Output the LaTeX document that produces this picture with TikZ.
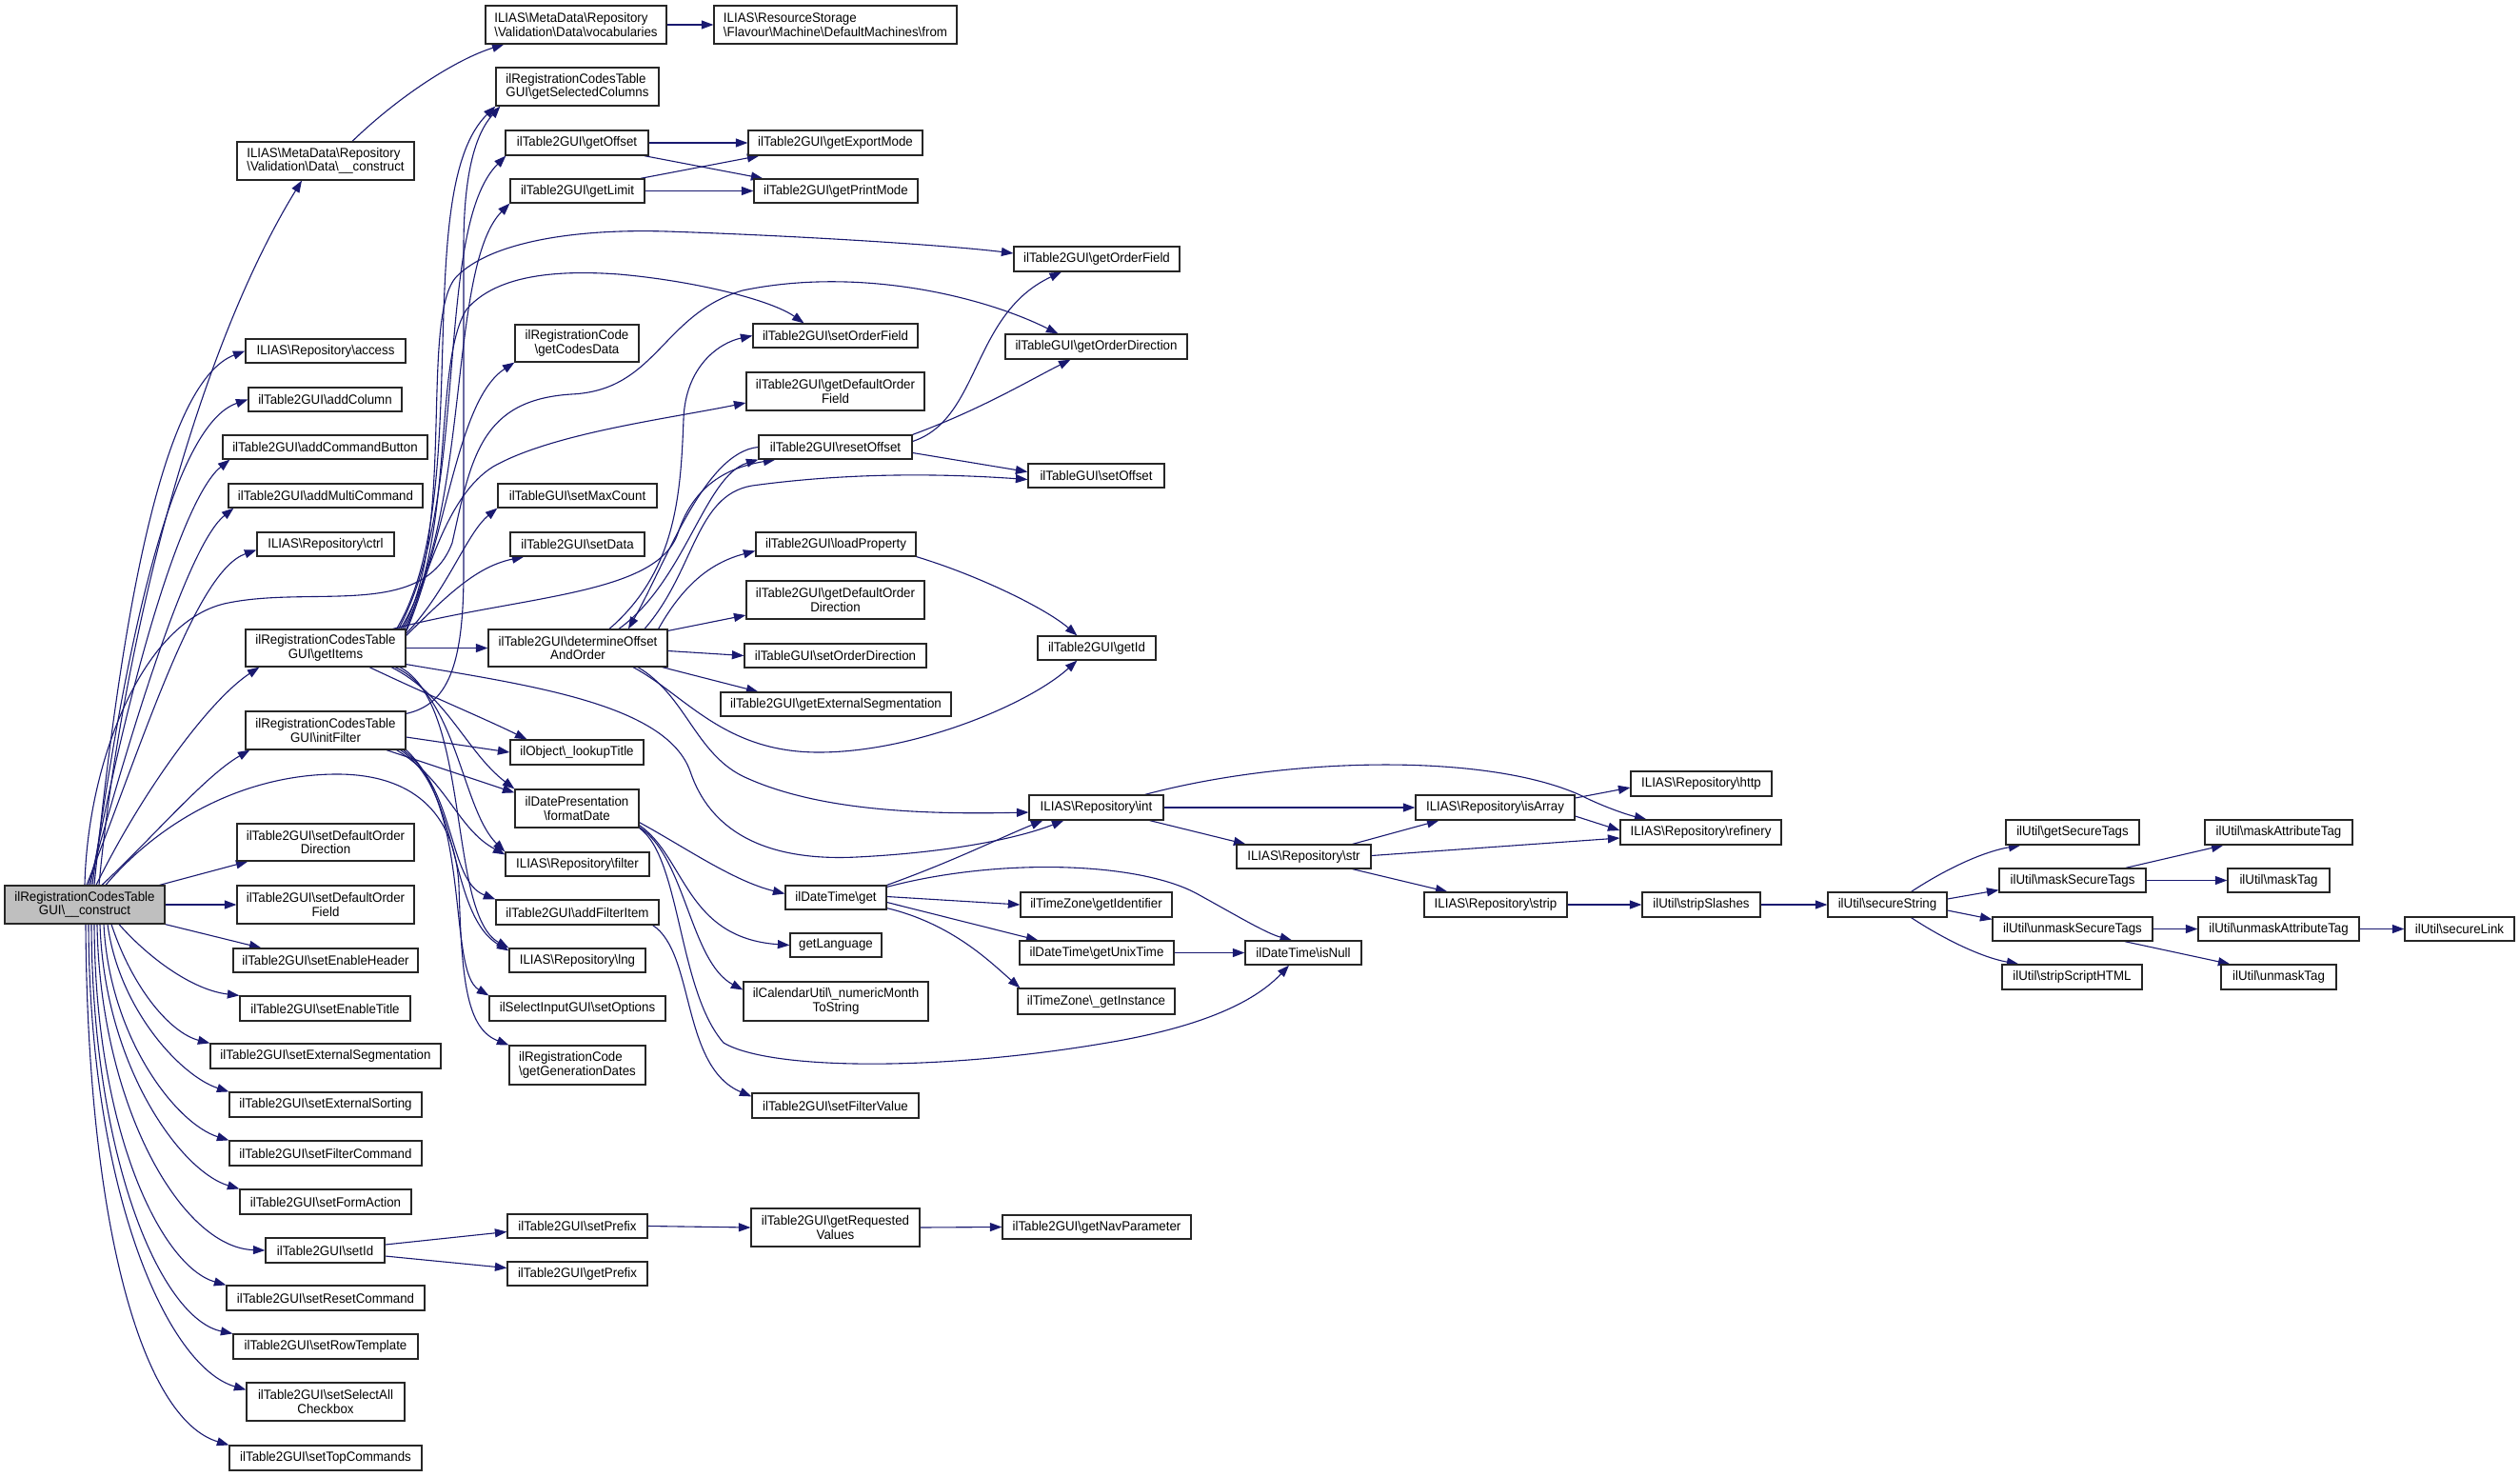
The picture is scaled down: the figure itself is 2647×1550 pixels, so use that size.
\documentclass[tikz,border=0pt]{standalone}
\usepackage{fontspec}
\setmainfont{Liberation Sans}[FakeStretch=0.95]
\usetikzlibrary{arrows.meta,calc,backgrounds}
\definecolor{edgec}{HTML}{191970}
\definecolor{rootc}{HTML}{BFBFBF}
\newcommand\bsl{\textbackslash}
\newcommand\mkbox[7][]{%
  \pgfmathsetmacro\mbX{(#3+#5)/2}%
  \pgfmathsetmacro\mbY{(#4+#6)/2}%
  \pgfmathsetmacro\mbW{#5-#3}%
  \pgfmathsetmacro\mbH{#6-#4}%
  \node[box,minimum width=\mbW pt,minimum height=\mbH pt,#1] (#2) at (\mbX,\mbY) {#7};}
\tikzset{
  box/.style={draw=black!85, line width=1.2pt, fill=white, inner sep=1pt, align=center,
    font=\fontsize{14}{14.6}\selectfont},
  ed/.style={draw=edgec, line width=1.1pt, -{Triangle[length=12.5pt,width=9pt]}},
}
\begin{document}
\begin{tikzpicture}[x=1pt,y=-1pt]
\useasboundingbox (0,0) rectangle (2647,1550);
% ---------- nodes ----------
\mkbox[fill=rootc]{R}{5}{930}{173}{970}{ilRegistrationCodesTable\\GUI\bsl\_\_construct}
\mkbox[align=left]{MDC}{249}{149}{435}{189}{ILIAS\bsl MetaData\bsl Repository\\\bsl Validation\bsl Data\bsl\_\_construct}
\mkbox{ACC}{258}{356}{426}{381}{ILIAS\bsl Repository\bsl access}
\mkbox{ACOL}{261}{407}{422}{432}{ilTable2GUI\bsl addColumn}
\mkbox{ACB}{234}{457}{449}{482}{ilTable2GUI\bsl addCommandButton}
\mkbox{AMC}{240}{508}{444}{533}{ilTable2GUI\bsl addMultiCommand}
\mkbox{CTRL}{270}{559}{414}{584}{ILIAS\bsl Repository\bsl ctrl}
\mkbox{GI}{258}{661}{426}{700}{ilRegistrationCodesTable\\GUI\bsl getItems}
\mkbox{IF}{258}{747}{426}{787}{ilRegistrationCodesTable\\GUI\bsl initFilter}
\mkbox{SDOD}{249}{865}{435}{904}{ilTable2GUI\bsl setDefaultOrder\\Direction}
\mkbox{SDOF}{249}{930}{435}{970}{ilTable2GUI\bsl setDefaultOrder\\Field}
\mkbox{SEH}{245}{996}{439}{1021}{ilTable2GUI\bsl setEnableHeader}
\mkbox{SET}{252}{1046}{431}{1072}{ilTable2GUI\bsl setEnableTitle}
\mkbox{SES}{221}{1096}{463}{1122}{ilTable2GUI\bsl setExternalSegmentation}
\mkbox{SESo}{241}{1147}{443}{1173}{ilTable2GUI\bsl setExternalSorting}
\mkbox{SFC}{241}{1198}{443}{1224}{ilTable2GUI\bsl setFilterCommand}
\mkbox{SFA}{252}{1249}{432}{1275}{ilTable2GUI\bsl setFormAction}
\mkbox{SID}{279}{1300}{404}{1326}{ilTable2GUI\bsl setId}
\mkbox{SRC}{238}{1350}{446}{1376}{ilTable2GUI\bsl setResetCommand}
\mkbox{SRT}{245}{1401}{439}{1427}{ilTable2GUI\bsl setRowTemplate}
\mkbox{SSAC}{259}{1452}{425}{1492}{ilTable2GUI\bsl setSelectAll\\Checkbox}
\mkbox{STC}{241}{1518}{443}{1544}{ilTable2GUI\bsl setTopCommands}
\mkbox[align=left]{VOC}{510}{6}{700}{46}{ILIAS\bsl MetaData\bsl Repository\\\bsl Validation\bsl Data\bsl vocabularies}
\mkbox[align=left]{GSC}{521}{71}{692}{111}{ilRegistrationCodesTable\\GUI\bsl getSelectedColumns}
\mkbox{GOFF}{531}{137}{681}{163}{ilTable2GUI\bsl getOffset}
\mkbox{GLIM}{536}{188}{677}{213}{ilTable2GUI\bsl getLimit}
\mkbox{GCD}{541}{341}{671}{380}{ilRegistrationCode\\\bsl getCodesData}
\mkbox{SMC}{523}{508}{690}{533}{ilTableGUI\bsl setMaxCount}
\mkbox{SDATA}{536}{559}{677}{584}{ilTable2GUI\bsl setData}
\mkbox{DO}{513}{661}{701}{700}{ilTable2GUI\bsl determineOffset\\AndOrder}
\mkbox{LT}{536}{777}{676}{803}{ilObject\bsl\_lookupTitle}
\mkbox{FD}{541}{829}{671}{869}{ilDatePresentation\\\bsl formatDate}
\mkbox{FLT}{531}{895}{682}{920}{ILIAS\bsl Repository\bsl filter}
\mkbox{AFI}{521}{945}{692}{971}{ilTable2GUI\bsl addFilterItem}
\mkbox{LNG}{535}{996}{678}{1021}{ILIAS\bsl Repository\bsl lng}
\mkbox{SOPT}{514}{1046}{699}{1072}{ilSelectInputGUI\bsl setOptions}
\mkbox[align=left]{GGD}{535}{1098}{678}{1139}{ilRegistrationCode\\\bsl getGenerationDates}
\mkbox{SPF}{533}{1275}{680}{1300}{ilTable2GUI\bsl setPrefix}
\mkbox{GPF}{533}{1325}{680}{1350}{ilTable2GUI\bsl getPrefix}
\mkbox[align=left]{FROM}{750}{6}{1005}{46}{ILIAS\bsl ResourceStorage\\\bsl Flavour\bsl Machine\bsl DefaultMachines\bsl from}
\mkbox{GEM}{786}{137}{969}{163}{ilTable2GUI\bsl getExportMode}
\mkbox{GPM}{792}{188}{964}{213}{ilTable2GUI\bsl getPrintMode}
\mkbox{SOF}{791}{340}{964}{365}{ilTable2GUI\bsl setOrderField}
\mkbox{GDOF}{784}{391}{971}{431}{ilTable2GUI\bsl getDefaultOrder\\Field}
\mkbox{RO}{797}{457}{958}{482}{ilTable2GUI\bsl resetOffset}
\mkbox{LP}{794}{559}{962}{584}{ilTable2GUI\bsl loadProperty}
\mkbox{GDOD}{784}{610}{971}{650}{ilTable2GUI\bsl getDefaultOrder\\Direction}
\mkbox{SOD}{782}{676}{973}{701}{ilTableGUI\bsl setOrderDirection}
\mkbox{GES}{757}{727}{999}{752}{ilTable2GUI\bsl getExternalSegmentation}
\mkbox{DG}{825}{930}{931}{955}{ilDateTime\bsl get}
\mkbox{GL}{830}{980}{926}{1005}{getLanguage}
\mkbox{NMTS}{781}{1031}{975}{1072}{ilCalendarUtil\bsl\_numericMonth\\ToString}
\mkbox{SFV}{790}{1148}{965}{1174}{ilTable2GUI\bsl setFilterValue}
\mkbox{GRV}{789}{1269}{966}{1309}{ilTable2GUI\bsl getRequested\\Values}
\mkbox{GOF}{1065}{259}{1239}{285}{ilTable2GUI\bsl getOrderField}
\mkbox{GOD}{1056}{351}{1247}{377}{ilTableGUI\bsl getOrderDirection}
\mkbox{SOFF}{1080}{487}{1223}{512}{ilTableGUI\bsl setOffset}
\mkbox{GID}{1090}{668}{1214}{693}{ilTable2GUI\bsl getId}
\mkbox{IN}{1081}{835}{1222}{861}{ILIAS\bsl Repository\bsl int}
\mkbox{GIDF}{1072}{937}{1231}{963}{ilTimeZone\bsl getIdentifier}
\mkbox{GUT}{1071}{988}{1233}{1013}{ilDateTime\bsl getUnixTime}
\mkbox{GINST}{1069}{1038}{1234}{1065}{ilTimeZone\bsl\_getInstance}
\mkbox{GNP}{1053}{1276}{1251}{1301}{ilTable2GUI\bsl getNavParameter}
\mkbox{STR}{1299}{887}{1440}{912}{ILIAS\bsl Repository\bsl str}
\mkbox{ISN}{1308}{988}{1430}{1013}{ilDateTime\bsl isNull}
\mkbox{ISA}{1487}{835}{1654}{861}{ILIAS\bsl Repository\bsl isArray}
\mkbox{STRIP}{1496}{937}{1646}{963}{ILIAS\bsl Repository\bsl strip}
\mkbox{HTTP}{1713}{810}{1861}{836}{ILIAS\bsl Repository\bsl http}
\mkbox{REF}{1702}{861}{1871}{887}{ILIAS\bsl Repository\bsl refinery}
\mkbox{SSL}{1725}{937}{1849}{963}{ilUtil\bsl stripSlashes}
\mkbox{SS}{1920}{937}{2045}{963}{ilUtil\bsl secureString}
\mkbox{GST}{2107}{861}{2247}{887}{ilUtil\bsl getSecureTags}
\mkbox{MST}{2100}{912}{2254}{937}{ilUtil\bsl maskSecureTags}
\mkbox{UST}{2093}{963}{2261}{988}{ilUtil\bsl unmaskSecureTags}
\mkbox{SSH}{2103}{1013}{2250}{1039}{ilUtil\bsl stripScriptHTML}
\mkbox{MAT}{2316}{861}{2471}{887}{ilUtil\bsl maskAttributeTag}
\mkbox{MT}{2340}{912}{2447}{937}{ilUtil\bsl maskTag}
\mkbox{UAT}{2309}{963}{2478}{988}{ilUtil\bsl unmaskAttributeTag}
\mkbox{UT}{2333}{1013}{2454}{1039}{ilUtil\bsl unmaskTag}
\mkbox{SL}{2526}{963}{2641}{988}{ilUtil\bsl secureLink}
% ---------- edges ----------
\begin{scope}[on background layer]
\fill[white] (0,0) rectangle (2647,1550);
% root, upward fan
\draw[ed] ($(R.north)+(15,0)$) .. controls (125,700) and (200,380) .. ($(MDC.south)+(-25,0)$);
\draw[ed] ($(R.north)+(10,0)$) .. controls (130,620) and (175,400) .. (ACC.west);
\draw[ed] ($(R.north)+(8,0)$) .. controls (135,650) and (185,445) .. (ACOL.west);
\draw[ed] ($(R.north)+(6,0)$) .. controls (140,690) and (195,520) .. ($(ACB.south west)+(8,0)$);
\draw[ed] ($(R.north)+(4,0)$) .. controls (145,740) and (200,570) .. ($(AMC.south west)+(6,0)$);
\draw[ed] ($(R.north)+(2,0)$) .. controls (150,780) and (205,600) .. ($(CTRL.west)+(0,6)$);
\draw[ed] ($(R.north)+(12,0)$) .. controls (150,830) and (220,735) .. ($(GI.south west)+(15,0)$);
\draw[ed] ($(R.north)+(18,0)$) .. controls (160,880) and (215,815) .. ($(IF.south west)+(5,0)$);
\draw[ed] (R.north) .. controls (92,800) and (150,650) .. (240,633) .. controls (330,615) and (445,650) .. (475,570) .. controls (495,480) and (505,420) .. (600,414) .. controls (690,410) and (695,330) .. (780,305) .. controls (900,280) and (1030,310) .. ($(GOD.north west)+(56,0)$);
\draw[ed] ($(R.north)+(22,0)$) .. controls (170,860) and (260,812) .. (357,813) .. controls (430,814) and (478,850) .. (482,930) .. controls (485,1030) and (490,1080) .. (GGD.north west);
\draw[ed] ($(R.north east)+(-6,0)$) -- ($(SDOD.south west)+(12,0)$);
\draw[ed] (R.east) -- (SDOF.west);
\draw[ed] (R.south east) -- ($(SEH.north west)+(30,0)$);
% root, downward fan
\draw[ed] ($(R.south)+(36,0)$) .. controls (160,1010) and (205,1040) .. (SET.north west);
\draw[ed] ($(R.south)+(28,0)$) .. controls (140,1040) and (180,1085) .. (SES.north west);
\draw[ed] ($(R.south)+(24,0)$) .. controls (125,1060) and (190,1130) .. (SESo.north west);
\draw[ed] ($(R.south)+(20,0)$) .. controls (115,1090) and (185,1180) .. (SFC.north west);
\draw[ed] ($(R.south)+(16,0)$) .. controls (110,1120) and (190,1230) .. (SFA.north west);
\draw[ed] ($(R.south)+(13,0)$) .. controls (105,1160) and (190,1310) .. (SID.west);
\draw[ed] ($(R.south)+(10,0)$) .. controls (100,1190) and (170,1330) .. (SRC.north west);
\draw[ed] ($(R.south)+(7,0)$) .. controls (97,1220) and (170,1385) .. (SRT.north west);
\draw[ed] ($(R.south)+(4,0)$) .. controls (94,1250) and (175,1435) .. ($(SSAC.north west)+(0,8)$);
\draw[ed] ($(R.south)+(1,0)$) .. controls (92,1290) and (150,1490) .. (STC.north west);
% metadata
\draw[ed] ($(MDC.north)+(28,0)$) .. controls (420,100) and (480,62) .. ($(VOC.south west)+(20,0)$);
\draw[ed] (VOC.east) -- (FROM.west);
% getItems
\draw[ed] ($(GI.north east)+(-10,0)$) .. controls (500,520) and (430,200) .. (GSC.south west);
\draw[ed] ($(IF.north east)+(0,3)$) .. controls (470,740) and (487,700) .. (487,600) -- (487,260) .. controls (487,180) and (500,140) .. ($(GSC.south west)+(5,0)$);
\draw[ed] ($(GI.north east)+(-8,0)$) .. controls (495,520) and (455,240) .. ($(GOFF.south west)+(1,0)$);
\draw[ed] ($(GI.north east)+(-6,0)$) .. controls (495,540) and (470,280) .. (GLIM.south west);
\draw[ed] ($(GI.north east)+(-4,0)$) .. controls (480,560) and (440,330) .. (480,290) .. controls (515,255) and (600,240) .. (700,243) .. controls (850,248) and (1000,258) .. ($(GOF.west)+(0,-6)$);
\draw[ed] ($(GI.north east)+(-2,0)$) .. controls (478,560) and (455,380) .. (490,325) .. controls (520,290) and (580,283) .. (650,288) .. controls (730,295) and (810,315) .. ($(SOF.north)+(-33,0)$);
\draw[ed] ($(GI.north east)+(0,3)$) .. controls (470,560) and (480,420) .. (GCD.south west);
\draw[ed] ($(GI.north east)+(0,1)$) .. controls (450,600) and (470,520) .. (518,490) .. controls (580,455) and (700,440) .. ($(GDOF.west)+(0,12)$);
\draw[ed] ($(GI.north east)+(0,5)$) .. controls (470,620) and (490,560) .. (SMC.south west);
\draw[ed] ($(GI.north east)+(0,7)$) .. controls (470,625) and (500,595) .. ($(SDATA.south west)+(15,0)$);
\draw[ed] ($(GI.north east)+(-14,0)$) .. controls (550,625) and (690,625) .. (712,560) .. controls (730,505) and (770,490) .. ($(RO.south west)+(18,0)$);
\draw[ed] (GI.east) -- (DO.west);
\draw[ed] ($(GI.south east)+(0,-3)$) .. controls (560,720) and (700,740) .. (725,810) .. controls (745,870) and (800,905) .. (900,900) .. controls (1000,895) and (1070,880) .. ($(IN.south west)+(37,0)$);
\draw[ed] ($(GI.south)+(46,0)$) .. controls (450,730) and (510,755) .. ($(LT.north west)+(18,0)$);
\draw[ed] ($(GI.south)+(69,0)$) .. controls (470,730) and (490,790) .. (FD.north west);
\draw[ed] ($(GI.south)+(73,0)$) .. controls (480,730) and (485,850) .. (FLT.north west);
\draw[ed] ($(GI.south)+(78,0)$) .. controls (495,740) and (470,960) .. (LNG.north west);
% initFilter
\draw[ed] ($(IF.east)+(0,7)$) -- (LT.west);
\draw[ed] ($(IF.south)+(64,0)$) -- ($(FD.north west)+(0,4)$);
\draw[ed] ($(IF.south east)+(-10,0)$) .. controls (470,820) and (480,870) .. ($(FLT.north west)+(0,3)$);
\draw[ed] ($(IF.south east)+(-6,0)$) .. controls (485,830) and (470,960) .. ($(LNG.north west)+(0,3)$);
\draw[ed] ($(IF.south east)+(-3,0)$) .. controls (480,830) and (470,925) .. (AFI.north west);
\draw[ed] (IF.south east) .. controls (495,850) and (470,1020) .. (SOPT.north west);
% determineOffsetAndOrder / resetOffset
\draw[ed] (RO.west) .. controls (740,475) and (700,590) .. ($(DO.north)+(53,0)$);
\draw[ed] ($(DO.north)+(33,0)$) .. controls (710,600) and (715,520) .. (718,440) .. controls (720,385) and (755,360) .. (SOF.west);
\draw[ed] ($(DO.north)+(43,0)$) .. controls (720,610) and (740,500) .. (RO.south west);
\draw[ed] ($(DO.north)+(70,0)$) .. controls (730,600) and (730,520) .. (790,510) .. controls (900,495) and (1000,498) .. ($(SOFF.west)+(0,4)$);
\draw[ed] ($(DO.north east)+(-10,0)$) .. controls (720,610) and (750,590) .. ($(LP.west)+(0,7)$);
\draw[ed] ($(DO.north east)+(0,2)$) -- ($(GDOD.west)+(0,16)$);
\draw[ed] ($(DO.east)+(0,3)$) -- (SOD.west);
\draw[ed] ($(DO.south east)+(-6,0)$) -- ($(GES.north west)+(40,0)$);
\draw[ed] ($(DO.south)+(58,0)$) .. controls (720,730) and (760,790) .. (860,790) .. controls (960,790) and (1080,740) .. ($(GID.south west)+(42,0)$);
\draw[ed] ($(DO.south)+(63,0)$) .. controls (720,730) and (730,790) .. (780,815) .. controls (850,848) and (950,856) .. ($(IN.west)+(0,5)$);
\draw[ed] (LP.south east) .. controls (1030,605) and (1100,640) .. ($(GID.north west)+(42,0)$);
\draw[ed] ($(RO.east)+(0,-6)$) .. controls (1030,440) and (1020,330) .. ($(GOF.south)+(-37,0)$);
\draw[ed] (RO.north east) .. controls (1030,430) and (1080,400) .. ($(GOD.south)+(-27,0)$);
\draw[ed] ($(RO.east)+(0,6)$) -- ($(SOFF.west)+(0,-4)$);
% offset / limit
\draw[ed] (GOFF.east) -- (GEM.west);
\draw[ed] ($(GOFF.south east)+(-5,0)$) -- ($(GPM.north west)+(10,0)$);
\draw[ed] ($(GLIM.north east)+(-5,0)$) -- ($(GEM.south west)+(12,0)$);
\draw[ed] (GLIM.east) -- (GPM.west);
% formatDate
\draw[ed] ($(FD.south east)+(0,-6)$) .. controls (720,890) and (770,925) .. ($(DG.west)+(0,-4)$);
\draw[ed] ($(FD.south east)+(0,-3)$) .. controls (720,900) and (720,985) .. (GL.west);
\draw[ed] ($(FD.south east)+(0,-1)$) .. controls (720,900) and (725,1010) .. ($(NMTS.west)+(0,-12)$);
\draw[ed] (FD.south east) .. controls (715,900) and (712,1040) .. (760,1095) .. controls (810,1125) and (1000,1125) .. (1180,1092) .. controls (1270,1075) and (1320,1050) .. ($(ISN.south)+(-15,0)$);
\draw[ed] ($(AFI.south east)+(-7,0)$) .. controls (730,1000) and (715,1120) .. ($(SFV.north west)+(0,4)$);
% ilDateTime get
\draw[ed] (DG.north east) .. controls (1000,905) and (1050,880) .. ($(IN.south west)+(15,0)$);
\draw[ed] ($(DG.east)+(0,-1)$) -- (GIDF.west);
\draw[ed] ($(DG.east)+(0,5)$) -- ($(GUT.north west)+(20,0)$);
\draw[ed] ($(DG.south east)+(0,-2)$) .. controls (1000,970) and (1040,1010) .. ($(GINST.north west)+(3,0)$);
\draw[ed] ($(DG.north east)+(0,2)$) .. controls (1050,900) and (1200,905) .. (1260,940) .. controls (1300,962) and (1330,980) .. ($(ISN.north)+(-12,0)$);
\draw[ed] (GUT.east) -- (ISN.west);
% repository int
\draw[ed] (IN.east) -- (ISA.west);
\draw[ed] ($(IN.south east)+(-15,0)$) -- ($(STR.north west)+(10,0)$);
\draw[ed] ($(IN.north east)+(-20,0)$) .. controls (1350,795) and (1560,790) .. (1660,835) .. controls (1690,850) and (1715,857) .. ($(REF.north west)+(28,0)$);
\draw[ed] ($(STR.north east)+(-20,0)$) -- ($(ISA.south west)+(25,0)$);
\draw[ed] ($(STR.east)+(0,-1)$) -- ($(REF.west)+(0,6)$);
\draw[ed] ($(STR.south east)+(-20,0)$) -- ($(STRIP.north west)+(25,0)$);
\draw[ed] ($(ISA.east)+(0,-10)$) -- ($(HTTP.west)+(0,4)$);
\draw[ed] ($(ISA.east)+(0,9)$) -- ($(REF.west)+(0,-2)$);
\draw[ed] (STRIP.east) -- (SSL.west);
\draw[ed] (SSL.east) -- (SS.west);
% secureString
\draw[ed] ($(SS.north)+(25,0)$) .. controls (2040,915) and (2080,895) .. ($(GST.south west)+(16,0)$);
\draw[ed] ($(SS.east)+(0,-6)$) -- ($(MST.south west)+(0,-3)$);
\draw[ed] ($(SS.east)+(0,6)$) -- ($(UST.north west)+(0,3)$);
\draw[ed] ($(SS.south)+(25,0)$) .. controls (2040,985) and (2080,1005) .. ($(SSH.north west)+(18,0)$);
\draw[ed] ($(MST.north east)+(-22,0)$) -- ($(MAT.south west)+(20,0)$);
\draw[ed] (MST.east) -- (MT.west);
\draw[ed] (UST.east) -- (UAT.west);
\draw[ed] ($(UST.south east)+(-30,0)$) -- ($(UT.north west)+(10,0)$);
\draw[ed] (UAT.east) -- (SL.west);
% setId
\draw[ed] ($(SID.east)+(0,-6)$) -- ($(SPF.west)+(0,6)$);
\draw[ed] ($(SID.east)+(0,6)$) -- ($(GPF.west)+(0,-6)$);
\draw[ed] (SPF.east) -- (GRV.west);
\draw[ed] (GRV.east) -- (GNP.west);
\end{scope}
\end{tikzpicture}
\end{document}
